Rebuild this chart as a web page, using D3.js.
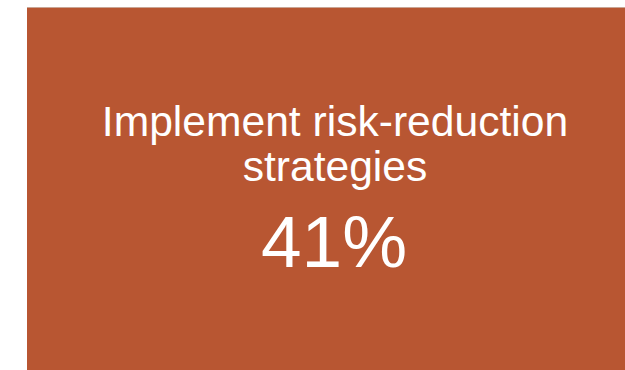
<!DOCTYPE html>
<html>
<head>
<meta charset="utf-8">
<script src="https://cdn.jsdelivr.net/npm/d3@7"></script>
<style>
  html, body { margin: 0; padding: 0; background: #ffffff; }
  svg { display: block; }
</style>
</head>
<body>
<svg id="chart" width="625" height="370"></svg>
<script>
// KPI tile content
const titleLines = ["Implement risk-reduction", "strategies"];
const values = [41];
const valueSuffix = "%";

const svg = d3.select("#chart");
const W = 625, H = 370;

const tile = { x: 27, y: 7, w: 616, h: 370 };
const cx = tile.x + tile.w / 2;

svg.append("rect")
  .attr("x", tile.x).attr("y", tile.y)
  .attr("width", tile.w).attr("height", tile.h)
  .attr("fill", "#b85632");

svg.append("line")
  .attr("x1", tile.x).attr("x2", W)
  .attr("y1", tile.y + 0.5).attr("y2", tile.y + 0.5)
  .attr("stroke", "#c9a595").attr("stroke-width", 1);

svg.selectAll("text.title")
  .data(titleLines)
  .join("text")
  .attr("class", "title")
  .attr("x", cx)
  .attr("y", (d, i) => 136 + i * 45)
  .attr("text-anchor", "middle")
  .attr("font-family", "Liberation Sans, Arial, sans-serif")
  .attr("font-size", 42.6)
  .attr("fill", "#ffffff")
  .text(d => d);

svg.selectAll("text.value")
  .data(values)
  .join("text")
  .attr("class", "value")
  .attr("x", cx - 1)
  .attr("y", 267)
  .attr("text-anchor", "middle")
  .attr("font-family", "Liberation Sans, Arial, sans-serif")
  .attr("font-size", 73)
  .attr("fill", "#ffffff")
  .text(d => d + valueSuffix);
</script>
</body>
</html>
